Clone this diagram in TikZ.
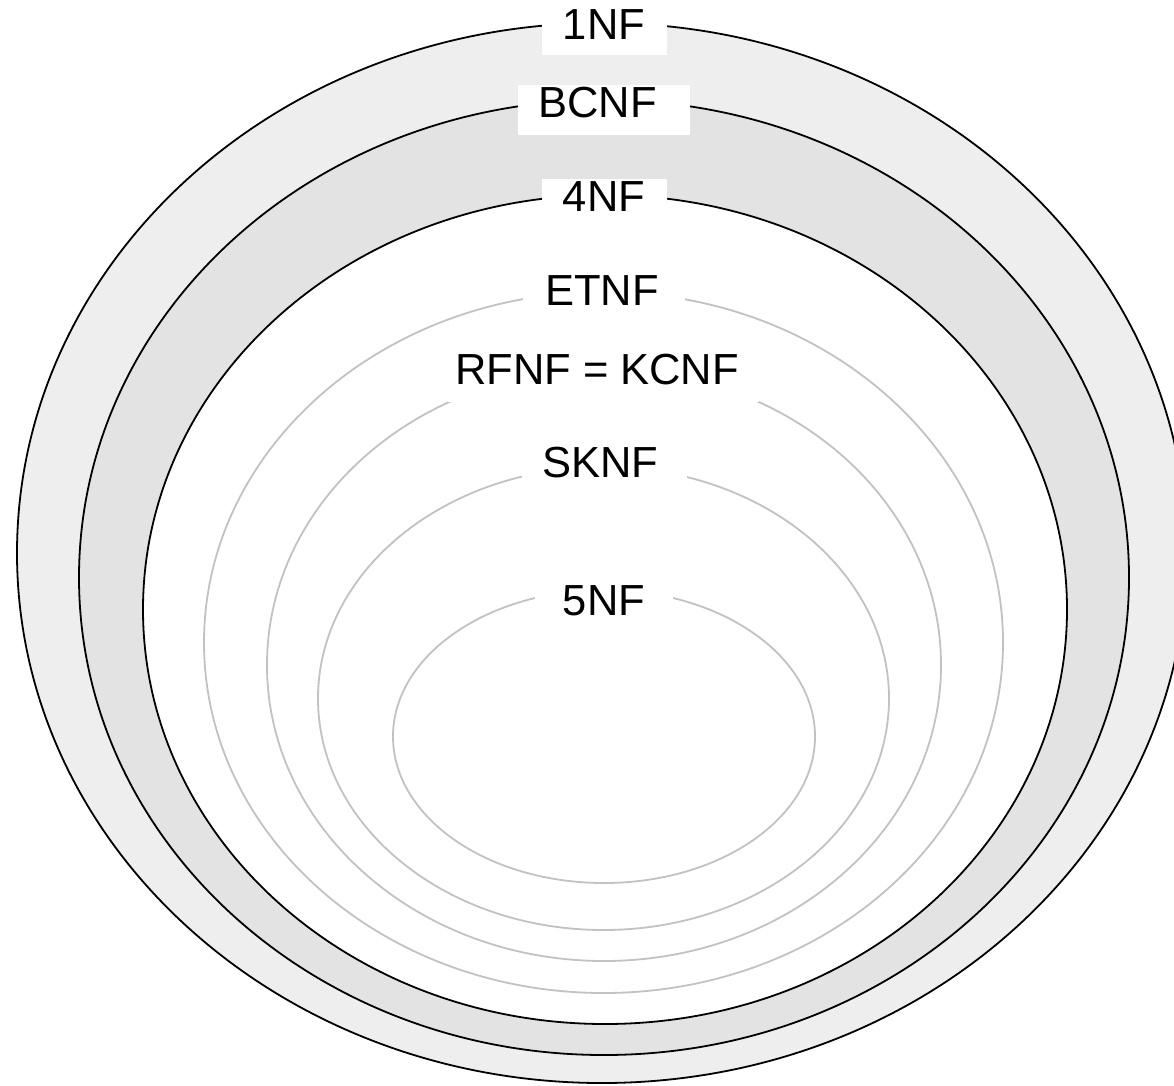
\documentclass[tikz,border=0pt]{standalone}
\usepackage{fontspec}
\setmainfont{Liberation Sans}
\definecolor{bandA}{HTML}{EEEEEE}
\definecolor{bandB}{HTML}{E3E3E3}
\definecolor{ringgray}{HTML}{C2C2C2}
\begin{document}
\begin{tikzpicture}[x=1pt,y=-1pt,
  solidring/.style={draw=black,line width=1.8pt},
  faintring/.style={draw=ringgray,line width=1.8pt},
  tagbox/.style={fill=white,draw=none,inner sep=0pt},
  tagtext/.style={inner sep=0pt,font=\fontsize{43.5}{52}\selectfont,text=black}]
\useasboundingbox (0,0) rectangle (1174,1085);
\clip (0,0) rectangle (1174,1085);

% filled outer classes
\path[solidring,fill=bandA] (602,553) ellipse [x radius=585pt,y radius=530pt];
\path[solidring,fill=bandB] (604,577.5) ellipse [x radius=525pt,y radius=477.5pt];
\path[solidring,fill=white] (605,609.5) ellipse [x radius=462pt,y radius=414.5pt];

% inner classes
\path[faintring] (603.5,642.5) ellipse [x radius=399.5pt,y radius=350.5pt];
\path[faintring] (604,665) ellipse [x radius=337pt,y radius=296pt];
\path[faintring] (603.5,698.5) ellipse [x radius=285.5pt,y radius=231.5pt];
\path[faintring] (604,736.5) ellipse [x radius=211pt,y radius=146.5pt];

% label backgrounds
\node[tagbox,minimum width=125pt,minimum height=55pt] (b1) at (604.5,27.5) {};
\node[tagbox,minimum width=172pt,minimum height=50pt] (b2) at (604,110) {};
\node[tagbox,minimum width=125pt,minimum height=50pt] (b3) at (604.5,204) {};
\node[tagbox,minimum width=162pt,minimum height=50pt] (b4) at (604,298) {};
\node[tagbox,minimum width=311pt,minimum height=50pt] (b5) at (603.5,377) {};
\node[tagbox,minimum width=165pt,minimum height=50pt] (b6) at (604.5,470) {};
\node[tagbox,minimum width=138pt,minimum height=50pt] (b7) at (604,608) {};

% labels
\node[tagtext] (t1) at (604,25) {1NF};
\node[tagtext] (t2) at (597.5,103) {BCNF};
\node[tagtext] (t3) at (604,197) {4NF};
\node[tagtext] (t4) at (602,291) {ETNF};
\node[tagtext] (t5) at (597,370) {RFNF = KCNF};
\node[tagtext] (t6) at (600,463) {SKNF};
\node[tagtext] (t7) at (604,601) {5NF};
\end{tikzpicture}
\end{document}
